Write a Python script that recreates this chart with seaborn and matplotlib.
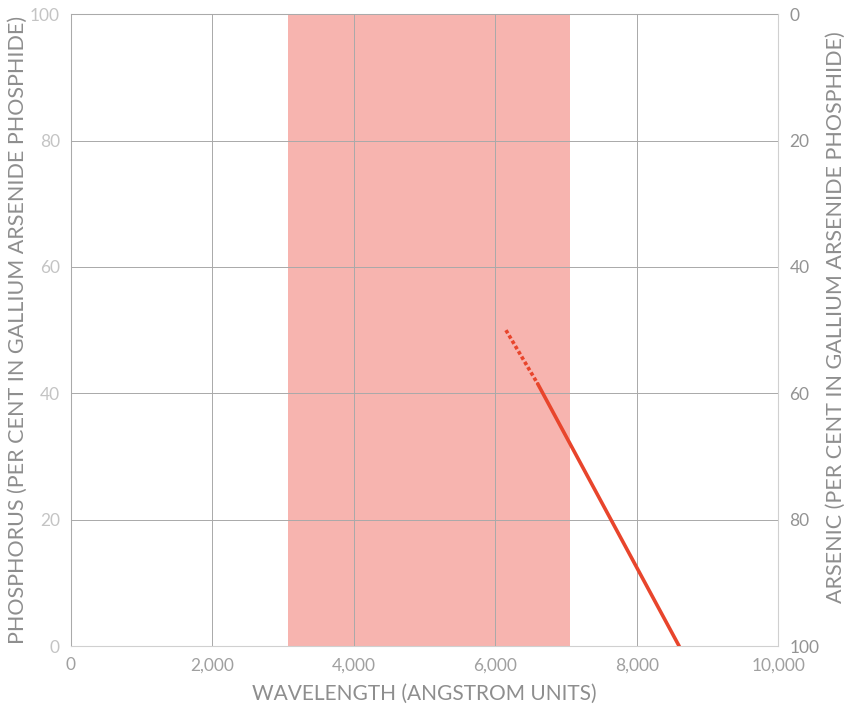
import matplotlib
matplotlib.use("Agg")
import matplotlib.pyplot as plt
import seaborn as sns
import pandas as pd

# ==================================================
#* Dados
# ==================================================
faixa_visivel = [3070, 7060]          # angstrom
tracejado_x = [6150, 6600]
tracejado_y = [50, 41.5]
solido_x = [6600, 8600]
solido_y = [41.5, 0]

x_ticks = [0, 2000, 4000, 6000, 8000, 10000]
x_labels = ["0", "2,000", "4,000", "6,000", "8,000", "10,000"]
y_ticks = [0, 20, 40, 60, 80, 100]
y_dir_labels = ["100", "80", "60", "40", "20", "0"]

# ==================================================
#* Configuração visual
# ==================================================
sns.set_theme(style="whitegrid")
plt.rcParams["font.family"] = ["Lato", "DejaVu Sans"]

cor_linha = "#e8452c"
cor_faixa = "#f7b4af"
cor_texto = "#8e8e8e"

fig = plt.figure(figsize=(8.45, 7.04), dpi=100)
ax = fig.add_axes([0.084, 0.082, 0.837, 0.898])

ax.axvspan(faixa_visivel[0], faixa_visivel[1], color=cor_faixa, zorder=0, lw=0)

df_tr = pd.DataFrame({"x": tracejado_x, "y": tracejado_y})
df_so = pd.DataFrame({"x": solido_x, "y": solido_y})
sns.lineplot(data=df_tr, x="x", y="y", ax=ax, color=cor_linha, lw=2.6,
             linestyle=(0, (1.0, 0.7)), zorder=3)
sns.lineplot(data=df_so, x="x", y="y", ax=ax, color=cor_linha, lw=2.6, zorder=3)

ax.set_xlim(0, 10000)
ax.set_ylim(0, 100)
ax.set_xticks(x_ticks)
ax.set_xticklabels(x_labels)
ax.set_yticks(y_ticks)
ax.grid(True, color="#a9a9a9", lw=0.7, zorder=1)
ax.set_axisbelow(False)
for s in ax.spines.values():
    s.set_color("#d0d0d0")
    s.set_linewidth(0.8)
ax.tick_params(axis="both", length=0, labelsize=12.5, pad=8)
for lbl in ax.get_xticklabels():
    lbl.set_color("#a0a0a0")
for lbl in ax.get_yticklabels():
    lbl.set_color("#c4c4c4")

ax.set_xlabel("WAVELENGTH (ANGSTROM UNITS)", fontsize=15, color=cor_texto)
ax.xaxis.set_label_coords(0.5, -0.06)
ax.set_ylabel("PHOSPHORUS (PER CENT IN GALLIUM ARSENIDE PHOSPHIDE)", fontsize=15.5,
              color=cor_texto)
ax.yaxis.set_label_coords(-0.061, 0.5)

ax2 = ax.twinx()
ax2.set_ylim(0, 100)
ax2.set_yticks(y_ticks)
ax2.set_yticklabels(y_dir_labels)
ax2.grid(False)
for s in ax2.spines.values():
    s.set_visible(False)
ax2.tick_params(axis="y", length=0, labelsize=12.5, colors="#939393", pad=8)
ax2.set_ylabel("ARSENIC (PER CENT IN GALLIUM ARSENIDE PHOSPHIDE)", fontsize=15.5,
               color=cor_texto)
ax2.yaxis.set_label_coords(1.068, 0.52)

fig.savefig("out.png", dpi=100)
